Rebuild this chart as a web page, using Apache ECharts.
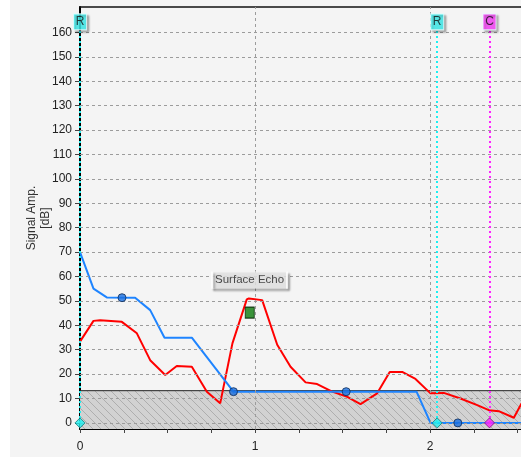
<!DOCTYPE html>
<html><head><meta charset="utf-8">
<script src="https://cdn.jsdelivr.net/npm/echarts@6/dist/echarts.min.js"></script>
<style>html,body{margin:0;padding:0;background:#fff}#c{width:521px;height:458px}</style>
</head><body><div id="c"></div>
<script>
// ---- data ----
const yTicks = [0,10,20,30,40,50,60,70,80,90,100,110,120,130,140,150,160];
const xLabelValues = [0,1,2];
const xTickValues = [0,0.25,0.5,0.75,1,1.25,1.5,1.75,2,2.25,2.5];
const xGridValues = [1,2];
const redEcho = [[0,33.3],[0.077,41.8],[0.115,42.1],[0.239,41.4],[0.325,36.7],[0.401,25.7],[0.487,19.6],[0.553,23.3],[0.639,23],[0.725,12.8],[0.801,8],[0.871,32.6],[0.953,50.6],[0.965,51],[1.041,50.3],[1.127,32],[1.203,23],[1.289,16.6],[1.355,15.9],[1.441,12.8],[1.527,10.7],[1.603,7.7],[1.698,12.1],[1.770,20.9],[1.841,20.9],[1.917,18],[2.003,12.1],[2.079,12.3],[2.174,10],[2.270,7.3],[2.336,5.2],[2.393,4.8],[2.479,2.1],[2.523,8]];
const blueCurve = [[0,70],[0.077,55],[0.153,51.4],[0.315,51.3],[0.401,46.2],[0.483,34.9],[0.639,34.9],[0.877,12.8],[1.923,12.8],[2.003,0],[2.523,0]];
const bluePoints = [[0.24,51.3],[0.877,12.8],[1.521,12.8],[2.159,0]];
const cyanDiamonds = [[0,0],[2.041,0]];
const magentaDiamonds = [[2.34,0]];
const cursorRX = [0,2.041];
const cursorCX = [2.34];
const cursorTop = 161;
const cursorLabelY = 164.3;
const thresholdLevel = 13.2;
const surfaceMarker = [[0.97,45.2]];
const surfaceLabelPos = [0.969,58.5];
const surfaceLabelText = 'Surface Echo';
const yName = 'Signal Amp.\n[dB]';
const xMin = 0, xMax = 2.52, yMin = -2.5, yMax = 170.4;

// ---- hatch pattern ----
const pc = document.createElement('canvas');
pc.width = 8; pc.height = 8;
const g = pc.getContext('2d');
g.fillStyle = '#d2d2d2'; g.fillRect(0,0,8,8);
g.strokeStyle = '#aeaeae'; g.lineWidth = 1;
for (const o of [-8,0,8]) { g.beginPath(); g.moveTo(o-1,-1); g.lineTo(o+9,9); g.stroke(); }

const chart = echarts.init(document.getElementById('c'), null, {renderer:'canvas'});
const gridLineStyle = {color:'#9c9c9c', width:1, type:[3,3]};
const cursorLine = (xs, color) => xs.map(x => [{coord:[x,0], lineStyle:{color}}, {coord:[x,cursorTop]}]);

chart.setOption({
  animation:false,
  backgroundColor:'#f4f4f4',
  textStyle:{fontFamily:'Liberation Sans, Arial, sans-serif'},
  graphic:[
    {type:'rect', shape:{x:0,y:0,width:10,height:458}, style:{fill:'#ffffff'}, z:100},
    {type:'rect', shape:{x:0,y:457,width:521,height:1}, style:{fill:'#ffffff'}, z:100}
  ],
  grid:{left:80, right:0, top:7, bottom:29, containLabel:false},
  xAxis:[{
    type:'value', min:xMin, max:xMax,
    axisLine:{show:true, onZero:false, lineStyle:{color:'#000', width:2}},
    axisTick:{show:true, customValues:xTickValues, length:4, lineStyle:{color:'#444'}},
    axisLabel:{customValues:xLabelValues, fontSize:12, color:'#222', margin:12},
    splitLine:{show:false}
  },{
    type:'value', min:xMin, max:xMax, position:'top',
    axisLine:{show:true, onZero:false, lineStyle:{color:'#111', width:1.5}},
    axisTick:{show:false}, axisLabel:{show:false}, splitLine:{show:false}
  }],
  yAxis:{
    type:'value', min:yMin, max:yMax,
    name:yName, nameLocation:'middle', nameGap:27, nameRotate:90, nameMoveOverlap:false,
    nameTextStyle:{fontSize:12, color:'#333', lineHeight:14},
    axisLine:{show:true, onZero:false, lineStyle:{color:'#000', width:2}},
    axisTick:{show:true, customValues:yTicks, length:5, lineStyle:{color:'#444'}},
    axisLabel:{customValues:yTicks, fontSize:12, color:'#222', margin:8},
    splitLine:{show:false}
  },
  series:[
    { // threshold hatched area
      type:'line', z:1, silent:true, symbol:'none',
      data:[[xMin,thresholdLevel],[xMax,thresholdLevel]],
      lineStyle:{color:'#222', width:1},
      areaStyle:{origin:'start', color:{image:pc, repeat:'repeat'}, opacity:1}
    },
    { // grid lines
      type:'line', z:2, silent:true, data:[],
      markLine:{silent:true, symbol:'none', label:{show:false}, lineStyle:gridLineStyle, animation:false,
        data: yTicks.map(v => ({yAxis:v})).concat(xGridValues.map(v => ({xAxis:v})))}
    },
    { type:'line', z:3, name:'echo', data:redEcho, symbol:'none', lineStyle:{color:'#ff0000', width:2} },
    { type:'line', z:4, name:'gate', data:blueCurve, symbol:'none', lineStyle:{color:'#1e84ff', width:2} },
    { // cursors
      type:'line', z:5, silent:true, data:[],
      markLine:{silent:true, symbol:'none', label:{show:false}, animation:false,
        lineStyle:{width:2, type:[2,3]},
        data: cursorLine(cursorRX,'#1ff0f0').concat(cursorLine(cursorCX,'#ff22ff'))}
    },
    { type:'scatter', z:6, data:bluePoints, symbol:'circle', symbolSize:8,
      itemStyle:{color:'#1a6fe0', borderColor:'#0e2a55', borderWidth:1} },
    { type:'scatter', z:6, data:cyanDiamonds, symbol:'diamond', symbolSize:10,
      itemStyle:{color:'#22f0f0', borderColor:'#127a7a', borderWidth:1} },
    { type:'scatter', z:6, data:magentaDiamonds, symbol:'diamond', symbolSize:10,
      itemStyle:{color:'#ff22ff', borderColor:'#801080', borderWidth:1} },
    { type:'scatter', z:6, data:surfaceMarker, symbol:'rect', symbolSize:[9,11],
      itemStyle:{color:'#0b7a0b', borderColor:'#002200', borderWidth:1} },
    { // cursor label boxes
      type:'scatter', z:7, symbol:'rect', symbolSize:[13,16],
      data: cursorRX.map(x => ({value:[x,cursorLabelY], name:'R', itemStyle:{color:'#3ff3f3'}}))
        .concat(cursorCX.map(x => ({value:[x,cursorLabelY], name:'C', itemStyle:{color:'#ff44ff'}}))),
      itemStyle:{borderColor:'#e8ffff', borderWidth:1, shadowColor:'rgba(0,0,0,0.35)', shadowBlur:2, shadowOffsetX:2, shadowOffsetY:2},
      label:{show:true, position:'inside', formatter:p => p.name, fontSize:12, color:'#111'}
    },
    { // Surface Echo label
      type:'scatter', z:7, symbol:'rect', symbolSize:[75,17],
      data:[{value:surfaceLabelPos, name:surfaceLabelText}],
      itemStyle:{color:'#ededed', borderColor:'#ffffff', borderWidth:1, shadowColor:'rgba(0,0,0,0.35)', shadowBlur:2, shadowOffsetX:2, shadowOffsetY:2},
      label:{show:true, position:'inside', formatter:p => p.name, fontSize:11.5, color:'#222'}
    }
  ]
});
</script></body></html>
